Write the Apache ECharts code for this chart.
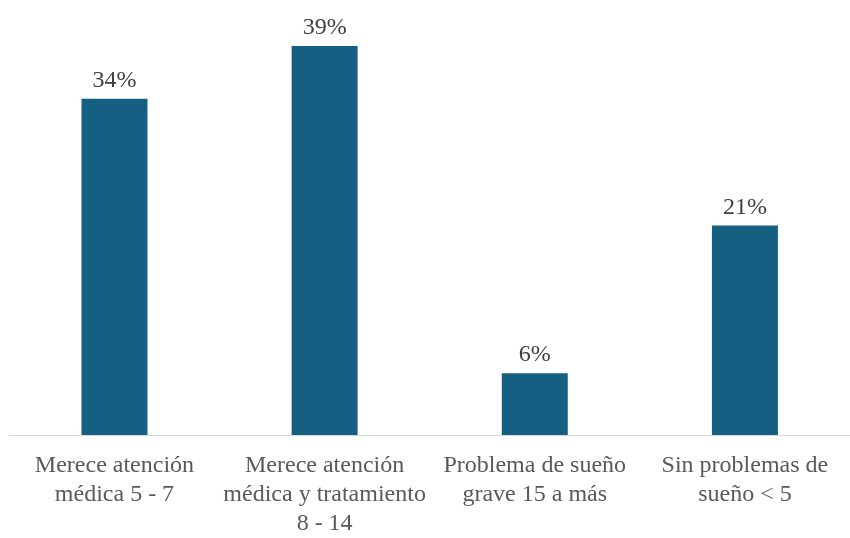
<!DOCTYPE html>
<html>
<head>
<meta charset="utf-8">
<script src="https://cdn.jsdelivr.net/npm/echarts@6/dist/echarts.min.js"></script>
<style>html,body{margin:0;padding:0;background:#fff;overflow:hidden;width:100%;height:100%;}#c{width:100vw;height:100vh;}</style>
</head>
<body>
<div id="c"></div>
<script>
const categories = ["Merece atención\nmédica 5 - 7", "Merece atención\nmédica y tratamiento\n8 - 14", "Problema de sueño\ngrave 15 a más", "Sin problemas de\nsueño < 5"];
const values = [33.7, 39.0, 6.2, 21.0];

const chart = echarts.init(document.getElementById('c'));
chart.setOption({
  animation: false,
  grid: {left: 9.4, right: -8, top: 36, bottom: 96, containLabel: false},
  xAxis: {
    type: 'category', data: categories,
    axisLine: {lineStyle: {color: '#d9d9d9', width: 1}},
    axisTick: {show: false},
    axisLabel: {color: '#595959', fontFamily: 'Liberation Serif', fontSize: 24, lineHeight: 29, margin: 16, interval: 0}
  },
  yAxis: {type: 'value', min: 0, max: 40, show: false, splitLine: {show: false}},
  series: [{
    type: 'bar', data: values, barWidth: 66,
    itemStyle: {color: '#156082'},
    label: {show: true, position: 'top', distance: 6, color: '#404040', fontFamily: 'Liberation Serif', fontSize: 24,
      formatter: p => Math.round(p.value) + '%'}
  }]
});
</script>
</body>
</html>
